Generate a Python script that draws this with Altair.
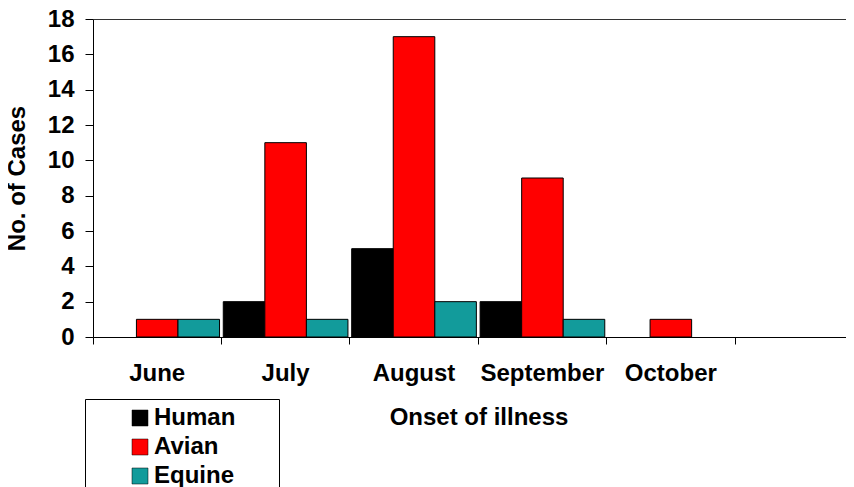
import altair as alt
import pandas as pd

months = ["June", "July", "August", "September", "October"]
series = ["Human", "Avian", "Equine"]
human = [0, 2, 5, 2, 0]
avian = [1, 11, 17, 9, 1]
equine = [1, 1, 2, 1, 0]
y_ticks = [0, 2, 4, 6, 8, 10, 12, 14, 16, 18]
colors = ["#000000", "#ff0000", "#129b9b"]

rows = []
for i, m in enumerate(months):
    for s, vals in zip(series, [human, avian, equine]):
        rows.append({"month": m, "series": s, "cases": vals[i]})
df = pd.DataFrame(rows)

FONT = "Liberation Sans"
PAD = "\u2800" * 2

chart = alt.Chart(df).transform_filter("datum.cases > 0").mark_bar(
    stroke="black", strokeWidth=1
).encode(
    x=alt.X(
        "month:N",
        sort=months,
        scale=alt.Scale(domain=months, paddingInner=0, paddingOuter=0.432, align=0),
        axis=alt.Axis(
            title="Onset of illness", bandPosition=1, tickExtra=True, labelAngle=0,
            ticks=True, tickSize=7, labelPadding=17, titlePadding=20,
            labelOverlap=False, grid=False, titleX=385.5,
        ),
    ),
    xOffset=alt.XOffset(
        "series:N", sort=series,
        scale=alt.Scale(domain=series, paddingInner=0, paddingOuter=0.045),
    ),
    y=alt.Y(
        "cases:Q",
        scale=alt.Scale(domain=[0, 18], nice=False),
        axis=alt.Axis(
            title="No. of Cases", values=y_ticks, tickSize=8, labelPadding=11,
            titlePadding=18, grid=True,
            gridColor={"condition": {"test": "datum.value == 18", "value": "#333333"},
                       "value": "rgba(0,0,0,0)"},
        ),
    ),
    color=alt.Color(
        "series:N", sort=series,
        scale=alt.Scale(domain=series, range=colors),
        legend=alt.Legend(
            title=None, orient="none", legendX=-8, legendY=380, direction="vertical",
            symbolType="square", symbolSize=256, symbolStrokeColor="black",
            symbolStrokeWidth=0.5, labelFont=FONT, labelFontSize=24,
            labelFontWeight="bold", labelColor="black", labelOffset=2, rowPadding=5,
            padding=7, strokeColor="black", fillColor="white", symbolOffset=36,
            labelExpr="datum.label + '" + PAD + "'",
        ),
    ),
).properties(
    width=753, height=318,
    autosize=alt.AutoSizeParams(type="none"),
    padding={"left": 85, "top": 11, "right": 0, "bottom": 150},
).configure_view(stroke=None).configure_axis(
    labelFont=FONT, titleFont=FONT, labelFontSize=24, titleFontSize=24,
    labelFontWeight="bold", titleFontWeight="bold", labelColor="black",
    titleColor="black", domainColor="black", tickColor="black",
    domainWidth=1, tickWidth=1,
)

chart.save("out.html", embed_options={"renderer": "svg", "actions": False})
